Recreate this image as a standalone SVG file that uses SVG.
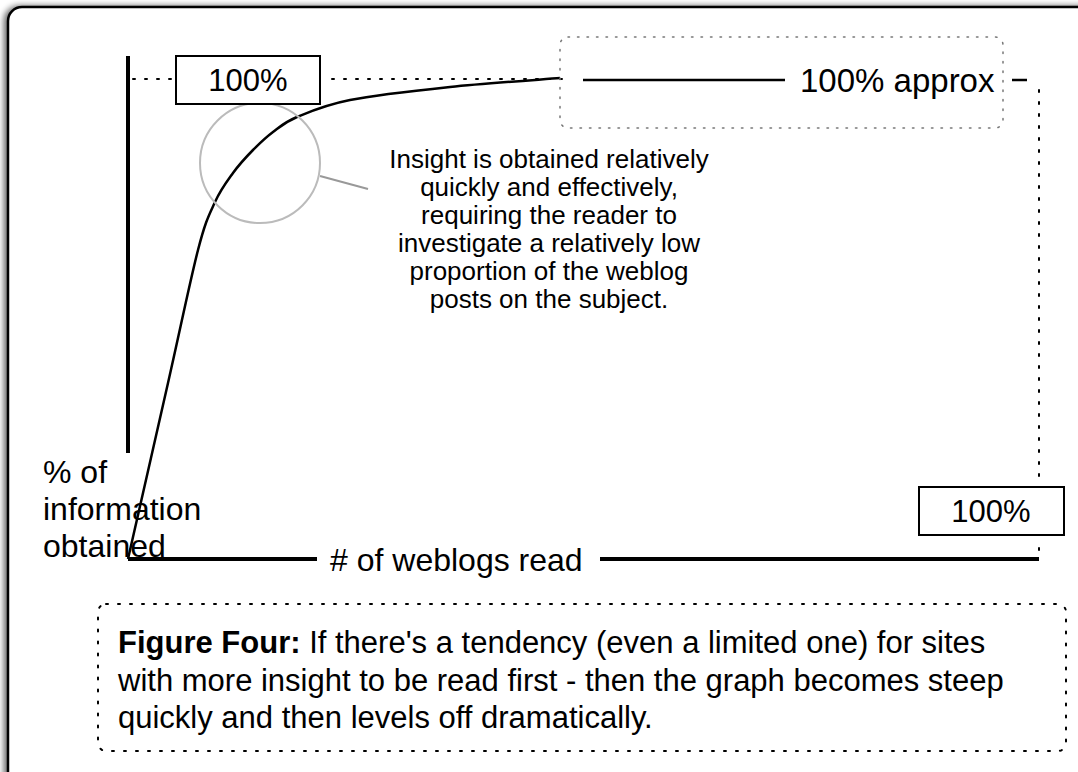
<svg xmlns="http://www.w3.org/2000/svg" width="1078" height="772" viewBox="0 0 1078 772">
<defs>
<filter id="sh" x="-5%" y="-5%" width="110%" height="110%"><feGaussianBlur in="SourceAlpha" stdDeviation="3"/><feOffset dx="-3" dy="0"/><feComponentTransfer><feFuncA type="linear" slope="0.6"/></feComponentTransfer><feMerge><feMergeNode/><feMergeNode in="SourceGraphic"/></feMerge></filter>
</defs>
<style>
text{font-family:"Liberation Sans",Arial,Helvetica,sans-serif;fill:#000}
.t31{font-size:31px}
.t26{font-size:26px;text-anchor:middle}
.axis{stroke:#000;stroke-width:4;fill:none}
.dot{stroke:#000;stroke-width:2;stroke-dasharray:2 10;fill:none;stroke-linecap:round}
.dotg{stroke:#777;stroke-width:1.5;stroke-dasharray:1.5 8;fill:none;stroke-linecap:round}
.box{fill:#fff;stroke:#000;stroke-width:2}
</style>
<rect x="0" y="0" width="1078" height="772" fill="#fff"/>
<rect x="8" y="7" width="1100" height="800" rx="14" fill="#fff" stroke="#000" stroke-width="2.5" filter="url(#sh)"/>
<g id="connectors">
<line class="axis" x1="128" y1="56" x2="128" y2="453"/>
<line class="axis" x1="128" y1="559" x2="317" y2="559"/>
<line class="axis" x1="600" y1="559" x2="1039" y2="559"/>
<line class="dot" x1="133" y1="79" x2="176" y2="79"/>
<line class="dot" x1="332" y1="79" x2="572" y2="79"/>
<line class="dot" x1="1039" y1="90" x2="1039" y2="478"/>
<line class="dot" x1="1039" y1="548" x2="1039" y2="552"/>
<line x1="1012" y1="80" x2="1027" y2="80" stroke="#000" stroke-width="2.5"/>
<path d="M128,559 C134.7,529.7 156.3,434.5 168,383 C179.7,331.5 190.2,280.2 198,250 C205.8,219.8 209.2,214.8 215,202 C220.8,189.2 226.7,181.7 233,173 C239.3,164.3 246.3,156.8 253,150 C259.7,143.2 265.7,137.5 273,132 C280.3,126.5 284.2,122.3 297,117 C309.8,111.7 324.5,105 350,100 C375.5,95 415,90.7 450,87 C485,83.3 541.7,79.5 560,78" fill="none" stroke="#000" stroke-width="2.5"/>
<line x1="320" y1="176" x2="368" y2="189" stroke="#999" stroke-width="2"/>
</g>
<g id="circle"><circle cx="260" cy="163" r="60" fill="none" stroke="#bbb" stroke-width="2"/></g>
<g id="top100"><rect class="box" x="176" y="56" width="144" height="48"/><text class="t31" x="248" y="91" text-anchor="middle">100%</text></g>
<g id="approx"><rect class="dotg" x="560" y="37" width="443" height="91" rx="8"/><line x1="583" y1="80" x2="785" y2="80" stroke="#000" stroke-width="2.5"/><text x="800" y="92" font-size="33">100% approx</text></g>
<g id="right100"><rect class="box" x="919" y="487" width="145" height="48"/><text class="t31" x="991" y="522" text-anchor="middle">100%</text></g>
<g id="note"><text class="t26"><tspan x="549" y="168">Insight is obtained relatively</tspan><tspan x="549" y="196">quickly and effectively,</tspan><tspan x="549" y="224">requiring the reader to</tspan><tspan x="549" y="252">investigate a relatively low</tspan><tspan x="549" y="280">proportion of the weblog</tspan><tspan x="549" y="308">posts on the subject.</tspan></text></g>
<g id="ylabel"><text font-size="32"><tspan x="43" y="483">% of</tspan><tspan x="43" y="520">information</tspan><tspan x="43" y="557">obtained</tspan></text></g>
<g id="xlabel"><text font-size="32" x="330" y="571"># of weblogs read</text></g>
<g id="caption"><rect class="dot" x="98" y="604" width="968" height="147" rx="8"/><text class="t31"><tspan x="118" y="653"><tspan font-weight="bold">Figure Four:</tspan> If there's a tendency (even a limited one) for sites</tspan><tspan x="118" y="691">with more insight to be read first - then the graph becomes steep</tspan><tspan x="118" y="728">quickly and then levels off dramatically.</tspan></text></g>
</svg>
